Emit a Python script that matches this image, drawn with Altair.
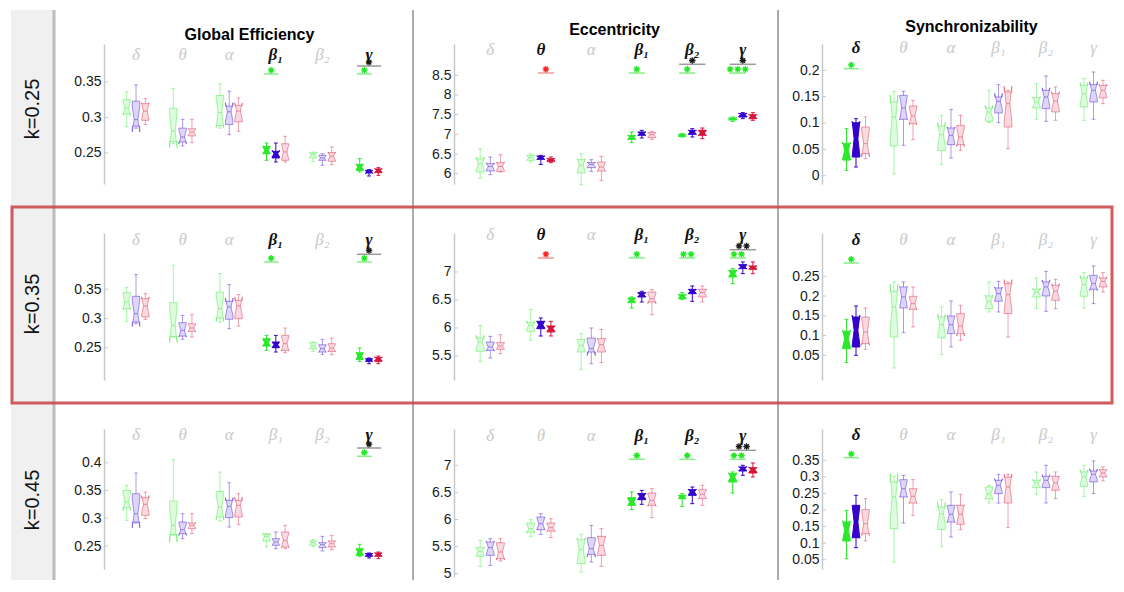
import altair as alt
import pandas as pd

BANDS = ["δ", "θ", "α", "β₁", "β₂", "γ"]
GROUP_COLORS = ["#2be82b", "#3300cc", "#d8153d"]
METRICS = ["Global Efficiency", "Eccentricity", "Synchronizability"]
K_LABELS = ["k=0.25", "k=0.35", "k=0.45"]

# box statistics: (whisker low, q1, median, q3, whisker high)
# band by band (δ θ α β1 β2 γ), inside each band: green, blue, red group
GE_K25 = [
    (0.287, 0.305, 0.313, 0.325, 0.336), (0.285, 0.288, 0.297, 0.323, 0.346), (0.290, 0.296, 0.309, 0.3195, 0.3265),
    (0.263, 0.266, 0.281, 0.313, 0.341), (0.260, 0.2655, 0.2725, 0.285, 0.2975), (0.2645, 0.274, 0.2795, 0.284, 0.2975),
    (0.285, 0.2885, 0.307, 0.331, 0.3475), (0.2758, 0.290, 0.308, 0.316, 0.337), (0.2805, 0.2937, 0.309, 0.317, 0.3275),
    (0.2397, 0.249, 0.2538, 0.2594, 0.264), (0.2373, 0.243, 0.249, 0.2523, 0.264), (0.2373, 0.2397, 0.2514, 0.263, 0.2735),
    (0.2383, 0.243, 0.2477, 0.250, 0.2514), (0.2326, 0.2397, 0.243, 0.2467, 0.249), (0.2336, 0.2383, 0.2453, 0.2505, 0.2585),
    (0.2232, 0.2256, 0.2303, 0.234, 0.242), (0.2176, 0.2218, 0.2232, 0.2256, 0.2265), (0.2185, 0.2223, 0.2256, 0.2275, 0.2293),
]
ECC_K25 = [
    (5.89, 6.042, 6.254, 6.381, 6.636), (5.975, 6.068, 6.186, 6.254, 6.424), (6.042, 6.059, 6.186, 6.280, 6.483),
    (6.297, 6.339, 6.407, 6.466, 6.5), (6.237, 6.364, 6.407, 6.449, 6.466), (6.280, 6.314, 6.356, 6.381, 6.424),
    (5.72, 6.017, 6.212, 6.356, 6.508), (6.059, 6.153, 6.237, 6.280, 6.356), (5.83, 6.068, 6.169, 6.297, 6.441),
    (6.788, 6.873, 6.932, 6.975, 7.059), (6.907, 6.975, 7.017, 7.059, 7.102), (6.873, 6.915, 6.992, 7.042, 7.076),
    (6.932, 6.949, 6.975, 7.0, 7.017), (6.932, 7.0, 7.059, 7.102, 7.144), (6.890, 6.975, 7.034, 7.102, 7.161),
    (7.33, 7.364, 7.398, 7.415, 7.44), (7.398, 7.44, 7.5, 7.525, 7.551), (7.356, 7.398, 7.458, 7.5, 7.551),
]
SYN_K25 = [
    (0.0101, 0.0297, 0.0481, 0.0608, 0.0892), (0.0165, 0.0354, 0.0703, 0.1006, 0.1082), (0.0323, 0.0418, 0.0608, 0.0924, 0.1114),
    (0.0038, 0.0563, 0.1114, 0.1399, 0.1601), (0.0576, 0.107, 0.1285, 0.1525, 0.1601), (0.0684, 0.0987, 0.1133, 0.1323, 0.143),
    (0.0215, 0.0481, 0.0778, 0.0943, 0.1146), (0.0335, 0.0589, 0.0766, 0.0905, 0.1259), (0.0481, 0.0589, 0.0734, 0.0956, 0.1146),
    (0.1006, 0.1032, 0.1209, 0.1285, 0.162), (0.1006, 0.119, 0.1411, 0.1494, 0.1728), (0.0513, 0.0924, 0.1367, 0.1589, 0.162),
    (0.107, 0.1285, 0.1399, 0.1481, 0.1747), (0.1032, 0.1272, 0.1494, 0.162, 0.1892), (0.1051, 0.1209, 0.1418, 0.1557, 0.1684),
    (0.1051, 0.1304, 0.1557, 0.1715, 0.1842), (0.107, 0.1399, 0.162, 0.1728, 0.1968), (0.1367, 0.1475, 0.162, 0.1715, 0.181),
]
GE_K35 = [
    (0.2951, 0.3169, 0.3283, 0.3443, 0.3529), (0.2911, 0.294, 0.3083, 0.338, 0.3751), (0.2986, 0.3026, 0.3214, 0.334, 0.3426),
    (0.2683, 0.269, 0.2883, 0.3271, 0.3911), (0.2643, 0.27, 0.2797, 0.2929, 0.3054), (0.2683, 0.278, 0.2837, 0.2911, 0.3066),
    (0.294, 0.3009, 0.3169, 0.3454, 0.3769), (0.2826, 0.2986, 0.3197, 0.3294, 0.358), (0.2871, 0.2997, 0.3214, 0.3311, 0.3409),
    (0.2454, 0.2529, 0.2586, 0.2654, 0.2711), (0.2426, 0.25, 0.2551, 0.2597, 0.2711), (0.2414, 0.2454, 0.2569, 0.2711, 0.2837),
    (0.2437, 0.2483, 0.2529, 0.2586, 0.2597), (0.238, 0.2426, 0.2483, 0.2551, 0.2643), (0.238, 0.2437, 0.2494, 0.2569, 0.2666),
    (0.2266, 0.23, 0.2357, 0.2414, 0.2494), (0.2226, 0.2266, 0.2289, 0.2311, 0.2323), (0.2226, 0.2266, 0.2311, 0.2334, 0.2357),
]
ECC_K35 = [
    (5.405, 5.583, 5.75, 5.821, 6.048), (5.464, 5.601, 5.661, 5.75, 5.851), (5.542, 5.619, 5.679, 5.738, 5.881),
    (5.78, 5.94, 6.048, 6.095, 6.333), (5.857, 5.988, 6.06, 6.119, 6.179), (5.857, 5.929, 5.988, 6.036, 6.119),
    (5.262, 5.571, 5.69, 5.798, 5.899), (5.363, 5.571, 5.631, 5.821, 6.0), (5.381, 5.571, 5.702, 5.81, 5.976),
    (6.357, 6.452, 6.494, 6.536, 6.554), (6.464, 6.554, 6.595, 6.631, 6.655), (6.238, 6.464, 6.524, 6.643, 6.69),
    (6.512, 6.524, 6.565, 6.595, 6.631), (6.476, 6.613, 6.655, 6.69, 6.75), (6.464, 6.554, 6.631, 6.69, 6.75),
    (6.792, 6.911, 6.97, 7.03, 7.06), (6.97, 7.06, 7.089, 7.131, 7.179), (6.97, 7.048, 7.083, 7.107, 7.179),
]
SYN_K35 = [
    (0.0314, 0.0669, 0.0922, 0.1108, 0.1411), (0.05, 0.0711, 0.1133, 0.147, 0.1749), (0.0652, 0.0795, 0.1091, 0.147, 0.1698),
    (0.0179, 0.0964, 0.1724, 0.212, 0.2357), (0.1074, 0.1698, 0.1977, 0.223, 0.2357), (0.1217, 0.1665, 0.1808, 0.1994, 0.223),
    (0.0517, 0.0939, 0.1276, 0.147, 0.1724), (0.0711, 0.1049, 0.1276, 0.1496, 0.1876), (0.088, 0.1049, 0.1243, 0.1555, 0.1766),
    (0.1597, 0.1681, 0.1867, 0.2002, 0.2357), (0.1597, 0.1867, 0.2061, 0.2205, 0.2373), (0.0964, 0.1555, 0.2036, 0.2314, 0.2357),
    (0.1681, 0.1977, 0.2103, 0.2171, 0.2458), (0.1614, 0.2002, 0.223, 0.2357, 0.2627), (0.1681, 0.1892, 0.212, 0.2272, 0.2424),
    (0.1698, 0.1994, 0.2289, 0.2458, 0.2593), (0.1808, 0.2171, 0.2314, 0.2525, 0.2762), (0.2103, 0.223, 0.2373, 0.2458, 0.2593),
]
GE_K45 = [
    (0.2962, 0.319, 0.3292, 0.3502, 0.3592), (0.2914, 0.293, 0.3082, 0.3442, 0.3814), (0.2992, 0.3052, 0.325, 0.337, 0.3472),
    (0.2695, 0.2705, 0.2872, 0.331, 0.4054), (0.2632, 0.2722, 0.2794, 0.2932, 0.3082), (0.2722, 0.2812, 0.2872, 0.2914, 0.3082),
    (0.295, 0.3022, 0.3202, 0.3484, 0.3832), (0.2842, 0.301, 0.3214, 0.3322, 0.364), (0.289, 0.3022, 0.3232, 0.3322, 0.3442),
    (0.2482, 0.259, 0.2674, 0.271, 0.2722), (0.2452, 0.2512, 0.2572, 0.2632, 0.2752), (0.2452, 0.2482, 0.2602, 0.2752, 0.2872),
    (0.2482, 0.2512, 0.256, 0.259, 0.2614), (0.241, 0.247, 0.2524, 0.256, 0.2674), (0.2434, 0.2482, 0.2542, 0.259, 0.2692),
    (0.2314, 0.2332, 0.2392, 0.2452, 0.253), (0.2284, 0.2314, 0.2344, 0.2362, 0.2374), (0.2272, 0.2314, 0.235, 0.2374, 0.2392),
]
ECC_K45 = [
    (5.135, 5.32, 5.412, 5.48, 5.615), (5.154, 5.338, 5.48, 5.585, 5.646), (5.234, 5.277, 5.4, 5.572, 5.646),
    (5.689, 5.769, 5.831, 5.935, 5.997), (5.726, 5.812, 5.923, 6.046, 6.108), (5.665, 5.788, 5.849, 5.935, 6.015),
    (5.031, 5.185, 5.443, 5.628, 5.726), (5.215, 5.357, 5.462, 5.665, 5.892), (5.135, 5.338, 5.523, 5.689, 5.831),
    (6.182, 6.262, 6.323, 6.403, 6.508), (6.28, 6.366, 6.428, 6.477, 6.538), (6.034, 6.262, 6.354, 6.489, 6.569),
    (6.243, 6.385, 6.415, 6.446, 6.477), (6.292, 6.446, 6.508, 6.551, 6.6), (6.262, 6.385, 6.465, 6.551, 6.631),
    (6.489, 6.692, 6.785, 6.846, 6.877), (6.815, 6.895, 6.938, 6.969, 7.0), (6.785, 6.858, 6.92, 6.957, 7.043),
]
SYN_K45 = [
    (0.053, 0.1064, 0.1386, 0.1638, 0.199), (0.0862, 0.1164, 0.1638, 0.2141, 0.2443), (0.1064, 0.1285, 0.1587, 0.201, 0.2342),
    (0.043, 0.1436, 0.2393, 0.2846, 0.3017), (0.1607, 0.2393, 0.2644, 0.2916, 0.3047), (0.1839, 0.2211, 0.2413, 0.2644, 0.2916),
    (0.0903, 0.1406, 0.1889, 0.2091, 0.2312), (0.1185, 0.1638, 0.1869, 0.2141, 0.2544), (0.1406, 0.1567, 0.1869, 0.2141, 0.2473),
    (0.2211, 0.2342, 0.2493, 0.2695, 0.2745), (0.2211, 0.2493, 0.2745, 0.2896, 0.3077), (0.1467, 0.2211, 0.2695, 0.2997, 0.3077),
    (0.2473, 0.2675, 0.2816, 0.2896, 0.3148), (0.2211, 0.2675, 0.2896, 0.3017, 0.3349), (0.2342, 0.2594, 0.2816, 0.3017, 0.3148),
    (0.2413, 0.2715, 0.2997, 0.3148, 0.3349), (0.2493, 0.2846, 0.3077, 0.3178, 0.348), (0.2876, 0.2997, 0.3117, 0.3218, 0.3299),
]

# significance marks: (band index, compared groups, stars)
GE_K25_SIG = [(3, "12", "*"), (5, "12", "*"), (5, "13", "*")]
ECC_K25_SIG = [(1, "23", "*"), (3, "12", "*"), (4, "12", "*"), (4, "13", "*"), (5, "12", "***"), (5, "13", "*")]
SYN_K25_SIG = [(0, "12", "*")]
GE_K35_SIG = [(3, "12", "*"), (5, "12", "*"), (5, "13", "*")]
ECC_K35_SIG = [(1, "23", "*"), (3, "12", "*"), (4, "12", "**"), (5, "12", "**"), (5, "13", "**")]
SYN_K35_SIG = [(0, "12", "*")]
GE_K45_SIG = [(5, "12", "*"), (5, "13", "*")]
ECC_K45_SIG = [(3, "12", "*"), (4, "12", "*"), (5, "12", "**"), (5, "13", "**")]
SYN_K45_SIG = [(0, "12", "*")]

Y_TICKS = [
    [[0.25, 0.3, 0.35], [6, 6.5, 7, 7.5, 8, 8.5], [0, 0.05, 0.1, 0.15, 0.2]],
    [[0.25, 0.3, 0.35], [5.5, 6, 6.5, 7], [0.05, 0.1, 0.15, 0.2, 0.25]],
    [[0.25, 0.3, 0.35, 0.4], [5, 5.5, 6, 6.5, 7], [0.05, 0.1, 0.15, 0.2, 0.25, 0.3, 0.35]],
]
Y_DOMAINS = [
    [(0.2063, 0.4035), (5.738, 9.295), (-0.01575, 0.2499)],
    [(0.1947, 0.4464), (5.0714, 7.696), (-0.0125, 0.3596)],
    [(0.2086, 0.4607), (4.939, 7.670), (0.0219, 0.4445)],
]

# ---- layout (pixels) ----
PANEL_W = [297, 315, 289]
PANEL_H = [[140, 140, 140], [147, 147, 147], [140, 148, 140]]
X_DOMAINS = [(0.313, 6.686), (0.281, 6.519), (0.284, 6.368)]
LABEL_DY = [[11, 6, 4], [7, 2, 7], [6, 7, 6]]
STAR_LINE = [[(30, 22), (29, 20.3), (24.7, 0)], [(29, 21.3), (25, 16.7), (30, 0)], [(27.3, 19), (30.3, 21.3), (28.7, 0)]]
TITLE_POS = [(-3, -9), (3, -14), (5, -17)]
ASTER = "M0,-1L0,1M-1,0L1,0M-0.7,-0.7L0.7,0.7M-0.7,0.7L0.7,-0.7"
ONE = pd.DataFrame({"k": [0]})

STATS = [[GE_K25, ECC_K25, SYN_K25], [GE_K35, ECC_K35, SYN_K35], [GE_K45, ECC_K45, SYN_K45]]
SIGS = [[GE_K25_SIG, ECC_K25_SIG, SYN_K25_SIG], [GE_K35_SIG, ECC_K35_SIG, SYN_K35_SIG],
        [GE_K45_SIG, ECC_K45_SIG, SYN_K45_SIG]]


def decorations():
    lay = []
    base = alt.Chart(ONE)
    lay.append(base.mark_rect(color="#f0f0f0").encode(
        x=alt.value(-93), x2=alt.value(-50), y=alt.value(-34), y2=alt.value(536)))
    lay.append(base.mark_rule(color="#bcbcbc", strokeWidth=3).encode(
        x=alt.value(-50), y=alt.value(-34), y2=alt.value(536)))
    for xv in (309, 674):
        lay.append(base.mark_rule(color="#ababab", strokeWidth=2).encode(
            x=alt.value(xv), y=alt.value(-34), y2=alt.value(536)))
    lay.append(base.mark_rect(fillOpacity=0, stroke="#c94a4a", strokeOpacity=0.9, strokeWidth=3).encode(
        x=alt.value(-92), x2=alt.value(1008), y=alt.value(163), y2=alt.value(359)))
    for lbl, yv in zip(K_LABELS, (65, 260, 456)):
        lay.append(base.mark_text(angle=270, fontSize=20, font="Liberation Sans", color="#111").encode(
            x=alt.value(-71), y=alt.value(yv), text=alt.value(lbl)))
    return lay


def panel(r, c):
    stats, sig = STATS[r][c], SIGS[r][c]
    xs = alt.Scale(domain=list(X_DOMAINS[c]), nice=False, zero=False)
    ys = alt.Scale(domain=list(Y_DOMAINS[r][c]), nice=False, zero=False)
    yaxis = alt.Axis(values=Y_TICKS[r][c], format=".2~f", grid=False, ticks=False, labelPadding=3,
                     labelFontSize=14, labelFont="Liberation Sans", labelColor="#1a1a1a",
                     domainColor="#c8c8c8", domainWidth=1.5, title=None)
    hw = 0.08
    on_boxes, on_bands = set(), set()
    for b, cmp, s in sig:
        on_bands.add(b)
        on_boxes.add((b, int(cmp[0]) - 1))
        on_boxes.add((b, int(cmp[1]) - 1))
    poly, segs = [], []
    for idx, (lo, q1, med, q3, hi) in enumerate(stats):
        b, g = divmod(idx, 3)
        cx = b + 1 + (g - 1) * 0.2
        on = (b, g) in on_boxes
        col = GROUP_COLORS[g]
        fo = 1.0 if on else 0.16
        so = 1.0 if on else 0.4
        half = 0.5 * (q3 - q1)
        nlo, nhi = med - half, med + half
        pts = [(-hw, q1), (-hw, nlo), (-hw / 2, med), (-hw, nhi), (-hw, q3),
               (hw, q3), (hw, nhi), (hw / 2, med), (hw, nlo), (hw, q1), (-hw, q1)]
        for k, (dx, yy) in enumerate(pts):
            poly.append(dict(box=idx, o=k, x=cx + dx, y=yy, col=col, fo=fo, so=so))
        cap = hw * 0.5
        for (x1, y1, x2, y2) in [(cx, lo, cx, q1), (cx, q3, cx, hi), (cx - cap, lo, cx + cap, lo),
                                 (cx - cap, hi, cx + cap, hi), (cx - hw / 2, med, cx + hw / 2, med)]:
            segs.append(dict(x=x1, y=y1, x2=x2, y2=y2, col=col, so=so))
    poly = pd.DataFrame(poly)
    segs = pd.DataFrame(segs)

    layers = decorations() if (r == 0 and c == 0) else []

    tick_df = pd.DataFrame({"t": Y_TICKS[r][c]})
    layers.append(alt.Chart(tick_df).mark_rule(color="#c8c8c8", strokeWidth=1).encode(
        x=alt.value(0), x2=alt.value(4), y=alt.Y("t:Q", scale=ys, axis=yaxis)))
    layers.append(alt.Chart(poly).mark_line(strokeWidth=1).encode(
        x=alt.X("x:Q", scale=xs, axis=None), y=alt.Y("y:Q", scale=ys, axis=yaxis),
        order="o:Q", detail="box:N",
        fill=alt.Fill("col:N", scale=None), stroke=alt.Stroke("col:N", scale=None),
        fillOpacity=alt.FillOpacity("fo:Q", scale=None), strokeOpacity=alt.StrokeOpacity("so:Q", scale=None)))
    layers.append(alt.Chart(segs).mark_rule(strokeWidth=1).encode(
        x=alt.X("x:Q", scale=xs, axis=None), x2="x2:Q", y=alt.Y("y:Q", scale=ys, axis=yaxis), y2="y2:Q",
        color=alt.Color("col:N", scale=None), strokeOpacity=alt.StrokeOpacity("so:Q", scale=None)))

    # band labels
    bands = pd.DataFrame({"x": [i + 1 for i in range(6)], "t": BANDS, "on": [i in on_bands for i in range(6)]})
    for on, color, weight in ((False, "#c9c9c9", "normal"), (True, "#111111", "bold")):
        sub = bands[bands["on"] == on]
        if len(sub):
            layers.append(alt.Chart(sub).mark_text(font="Liberation Serif", fontStyle="italic", fontSize=17,
                                                   fontWeight=weight, color=color, baseline="middle").encode(
                x=alt.X("x:Q", scale=xs, axis=None), y=alt.value(LABEL_DY[r][c]), text="t:N"))

    # significance stars
    ly_col, ly_blk = STAR_LINE[r][c]
    pts, lines = [], []
    for b, cmp, s in sig:
        i, j = int(cmp[0]) - 1, int(cmp[1]) - 1
        kind = "k" if cmp == "13" else ("g" if cmp == "12" else "r")
        col = {"g": "#1ee81e", "r": "#ff2020", "k": "#1a1a1a"}[kind]
        lc = {"g": "#86ee86", "r": "#f29a9a", "k": "#9a9a9a"}[kind]
        center = b + 1 + ((i + j) / 2 - 1) * 0.2
        n = len(s)
        for m in range(n):
            pts.append(dict(x=center + (m - (n - 1) / 2) * 0.15, col=col, blk=kind == "k"))
        lines.append(dict(x=b + 1 + (i - 1) * 0.2 - 0.06, x2=b + 1 + (j - 1) * 0.2 + 0.06, lc=lc, blk=kind == "k"))
    pts = pd.DataFrame(pts)
    lines = pd.DataFrame(lines)
    for blk, ly in ((False, ly_col), (True, ly_blk)):
        ln = lines[lines["blk"] == blk]
        if len(ln):
            layers.append(alt.Chart(ln).mark_rule(strokeWidth=1.5).encode(
                x=alt.X("x:Q", scale=xs, axis=None), x2="x2:Q", y=alt.value(ly),
                color=alt.Color("lc:N", scale=None)))
        pp = pts[pts["blk"] == blk]
        if len(pp):
            layers.append(alt.Chart(pp).mark_point(shape=ASTER, size=42, filled=False, strokeWidth=1.3, opacity=1).encode(
                x=alt.X("x:Q", scale=xs, axis=None), y=alt.value(ly - 3.8),
                color=alt.Color("col:N", scale=None)))

    if r == 0:
        dx, dy = TITLE_POS[c]
        layers.append(alt.Chart(ONE).mark_text(font="Liberation Sans", fontSize=16, fontWeight="bold",
                                               color="#000000", baseline="middle").encode(
            x=alt.value(PANEL_W[c] / 2 + dx), y=alt.value(dy), text=alt.value(METRICS[c])))

    return alt.layer(*layers).properties(width=PANEL_W[c], height=PANEL_H[r][c])


panels = [panel(r, c) for r in range(3) for c in range(3)]

chart = alt.concat(
    *panels, columns=3, spacing=alt.RowColnumber(row=49, column=53), bounds="flush"
).properties(
    padding={"left": 2, "top": 0, "right": 0, "bottom": 0}
).configure_view(strokeWidth=0)

chart.save("out.html", embed_options={"renderer": "svg", "actions": False})
